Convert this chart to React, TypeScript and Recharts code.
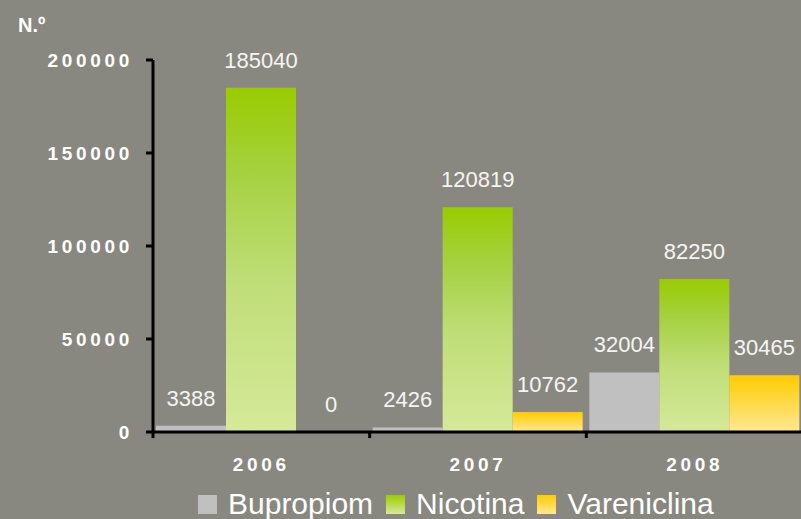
import React from 'react';
import { BarChart, Bar, XAxis, YAxis, LabelList } from 'recharts';

const years = ['2006', '2007', '2008'];
const bupropiom = [3388, 2426, 32004];
const nicotina = [185040, 120819, 82250];
const vareniclina = [0, 10762, 30465];
const yTicks = [0, 50000, 100000, 150000, 200000];
const seriesNames = ['Bupropiom', 'Nicotina', 'Vareniclina'];

const data = years.map((y, i) => ({
  year: y,
  Bupropiom: bupropiom[i],
  Nicotina: nicotina[i],
  Vareniclina: vareniclina[i],
}));

const FONT = '"Liberation Sans", Arial, sans-serif';
const BG = '#898880';
const CHART_W = 803;
const CHART_H = 519;
const MARGIN = { top: 60, right: 0, left: 3, bottom: 47 };
const Y_W = 150;
const PLOT_W = CHART_W - MARGIN.left - MARGIN.right - Y_W;
const BAND = PLOT_W / years.length;

const YTick = (props: any) => {
  const { x, y, payload } = props;
  return (
    <text x={x} y={y} dy="0.35em" textAnchor="end" fill="#ffffff" fontFamily={FONT}
      fontSize={19} fontWeight="bold" style={{ letterSpacing: '3.7px' }}>
      {payload.value}
    </text>
  );
};

const XTick = (props: any) => {
  const { x, y, payload } = props;
  const bx = x - BAND / 2;
  return (
    <g>
      <line x1={bx} y1={y} x2={bx} y2={y + 6} stroke="#000" strokeWidth={3} />
      <text x={x} y={y + 38.5} textAnchor="middle" fill="#ffffff" fontFamily={FONT}
        fontSize={19} fontWeight="bold" style={{ letterSpacing: '3.7px' }}>
        {payload.value}
      </text>
    </g>
  );
};

const legendFills = ['#c0c0c0', 'url(#lgNic)', 'url(#lgVar)'];

export default function App() {
  return (
    <div style={{ position: 'absolute', left: 0, top: 0, width: 801, height: 519, overflow: 'hidden', background: BG }}>
      <BarChart width={CHART_W} height={CHART_H} data={data} margin={MARGIN}
        barCategoryGap={3} barGap={0} style={{ background: BG }}>
        <defs>
          <linearGradient id="gNic" x1="0" y1="0" x2="0" y2="1">
            <stop offset="0" stopColor="#99cc00" />
            <stop offset="0.25" stopColor="#a5d140" />
            <stop offset="0.55" stopColor="#bedd76" />
            <stop offset="1" stopColor="#d6e99a" />
          </linearGradient>
          <linearGradient id="gVar" x1="0" y1="0" x2="0" y2="1">
            <stop offset="0" stopColor="#ffcc00" />
            <stop offset="1" stopColor="#ffe893" />
          </linearGradient>
        </defs>
        <XAxis dataKey="year" axisLine={{ stroke: '#000', strokeWidth: 3 }} tickLine={false}
          tickSize={0} tickMargin={0} height={40} tick={<XTick />} interval={0} />
        <YAxis width={Y_W} domain={[0, 200000]} ticks={yTicks} interval={0}
          axisLine={{ stroke: '#000', strokeWidth: 3 }} tickLine={{ stroke: '#000', strokeWidth: 3 }}
          tickSize={7} tickMargin={13} tick={<YTick />} />
        <Bar dataKey="Bupropiom" fill="#c0c0c0" isAnimationActive={false}>
          <LabelList dataKey="Bupropiom" position="top" offset={20} fill="#f5f5f5" fontSize={22} fontFamily={FONT} />
        </Bar>
        <Bar dataKey="Nicotina" fill="url(#gNic)" isAnimationActive={false}>
          <LabelList dataKey="Nicotina" position="top" offset={20} fill="#f5f5f5" fontSize={22} fontFamily={FONT} />
        </Bar>
        <Bar dataKey="Vareniclina" fill="url(#gVar)" minPointSize={0.01} isAnimationActive={false}>
          <LabelList dataKey="Vareniclina" position="top" offset={20} fill="#f5f5f5" fontSize={22} fontFamily={FONT} />
        </Bar>
      </BarChart>
      <div style={{ position: 'absolute', left: 18, top: 14, color: '#fff', fontFamily: FONT, fontWeight: 'bold', fontSize: 20, lineHeight: '23px' }}>N.º</div>
      <svg width={0} height={0} style={{ position: 'absolute' }}>
        <defs>
          <linearGradient id="lgNic" x1="0" y1="0" x2="0" y2="1">
            <stop offset="0" stopColor="#99cc00" />
            <stop offset="1" stopColor="#d6e99a" />
          </linearGradient>
          <linearGradient id="lgVar" x1="0" y1="0" x2="0" y2="1">
            <stop offset="0" stopColor="#ffcc00" />
            <stop offset="1" stopColor="#ffe893" />
          </linearGradient>
        </defs>
      </svg>
      <div style={{ position: 'absolute', left: 198, top: 487, display: 'flex', alignItems: 'center', fontFamily: FONT, fontSize: 30, lineHeight: '34px', color: '#fff', whiteSpace: 'nowrap' }}>
        {seriesNames.map((n, i) => (
          <div key={n} style={{ display: 'flex', alignItems: 'center', marginRight: 13 }}>
            <svg width={19} height={19} style={{ marginRight: 11, display: 'block' }}>
              <rect x={0} y={0} width={19} height={19} fill={legendFills[i]} />
            </svg>
            <span>{n}</span>
          </div>
        ))}
      </div>
    </div>
  );
}
